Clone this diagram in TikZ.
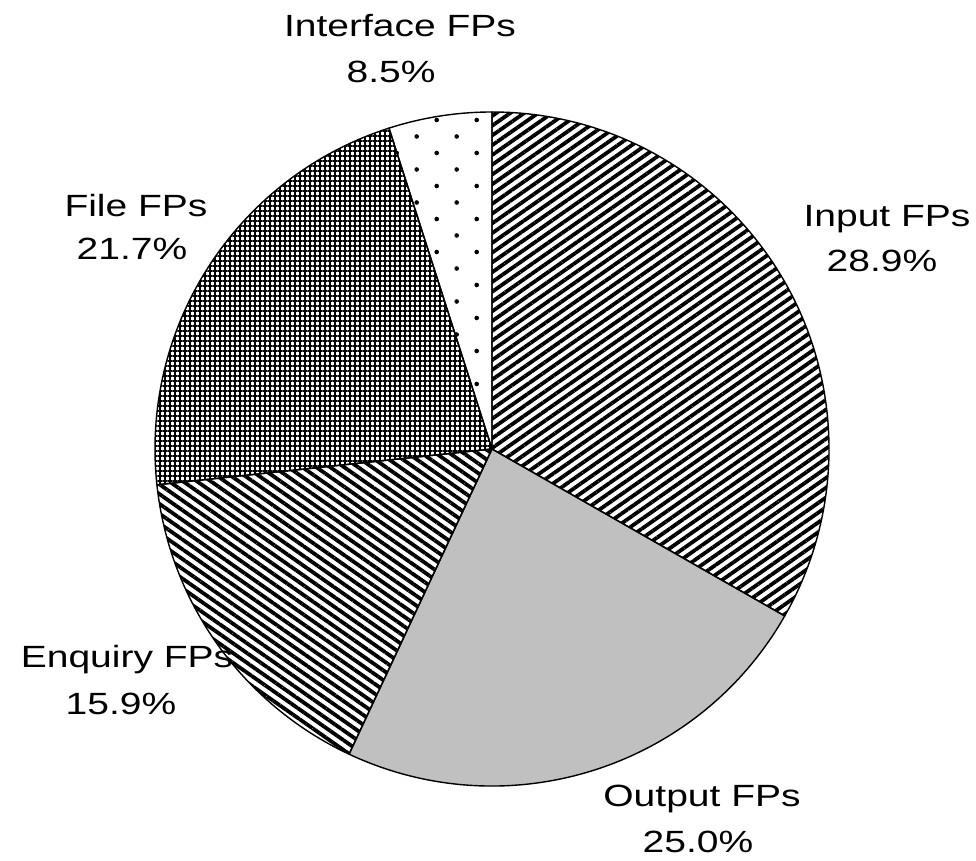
\documentclass[tikz,border=0pt]{standalone}
\usepackage{fontspec}
\setmainfont{Liberation Sans}
\usetikzlibrary{patterns.meta}
\definecolor{outgray}{RGB}{192,192,192}
\begin{document}
\begin{tikzpicture}[x=1pt,y=1pt,
  edge/.style={draw=black,line width=1.4pt,line join=round},
  stripesA/.style={pattern={Lines[angle=35,distance=8pt,line width=3.8pt]}},
  stripesB/.style={pattern={Lines[angle=-35,distance=8pt,line width=3.8pt]}},
  checker/.style={pattern={Hatch[angle=0,distance=5pt,line width=1.6pt]}},
  dotmark/.style={fill=black},
  lbl/.style={font=\fontsize{30.7}{46}\selectfont, xscale=1.27, anchor=base, inner sep=0pt}]
\useasboundingbox (0,0) rectangle (976,861);
\coordinate (c) at (492,412);
\def\R{337}
% Input slice
\fill[white] (c) -- ++(90:\R) arc[start angle=90,end angle=-29.7,radius=\R] -- cycle;
\path[stripesA] (c) -- ++(90:\R) arc[start angle=90,end angle=-29.7,radius=\R] -- cycle;
% Output slice
\fill[outgray] (c) -- ++(-29.7:\R) arc[start angle=-29.7,end angle=-115.1,radius=\R] -- cycle;
% Enquiry slice
\fill[white] (c) -- ++(-115.1:\R) arc[start angle=-115.1,end angle=-173.9,radius=\R] -- cycle;
\path[stripesB] (c) -- ++(-115.1:\R) arc[start angle=-115.1,end angle=-173.9,radius=\R] -- cycle;
% File slice
\fill[white] (c) -- ++(-173.9:\R) arc[start angle=-173.9,end angle=-252.2,radius=\R] -- cycle;
\path[checker] (c) -- ++(-173.9:\R) arc[start angle=-173.9,end angle=-252.2,radius=\R] -- cycle;
% Interface slice
\fill[white] (c) -- ++(107.8:\R) arc[start angle=107.8,end angle=90,radius=\R] -- cycle;
\begin{scope}
  \clip (c) -- ++(107.8:\R) arc[start angle=107.8,end angle=90,radius=\R] -- cycle;
  \foreach \m in {-4,...,0} {
    \foreach \n in {0,...,20} {
      \fill[dotmark] (476.7+40*\m, 741-33*\n) circle[radius=2.3];
      \fill[dotmark] (456.7+40*\m, 724.5-33*\n) circle[radius=2.3];
    }
  }
\end{scope}
% outlines
\draw[edge] (c) -- ++(90:\R) arc[start angle=90,end angle=-29.7,radius=\R] -- cycle;
\draw[edge] (c) -- ++(-29.7:\R) arc[start angle=-29.7,end angle=-115.1,radius=\R] -- cycle;
\draw[edge] (c) -- ++(-115.1:\R) arc[start angle=-115.1,end angle=-173.9,radius=\R] -- cycle;
\draw[edge] (c) -- ++(-173.9:\R) arc[start angle=-173.9,end angle=-252.2,radius=\R] -- cycle;
\draw[edge] (c) -- ++(107.8:\R) arc[start angle=107.8,end angle=90,radius=\R] -- cycle;
% labels
\node[lbl] (ifL) at (400,824) {Interface FPs};
\node[lbl] (ifP) at (391,778) {8.5\%};
\node[lbl] (flL) at (136,644) {File FPs};
\node[lbl] (flP) at (132,601) {21.7\%};
\node[lbl] (enL) at (127,193) {Enquiry FPs};
\node[lbl] (enP) at (121,146) {15.9\%};
\node[lbl] (otL) at (702,54) {Output FPs};
\node[lbl] (otP) at (698,9) {25.0\%};
\node[lbl] (inL) at (887,634) {Input FPs};
\node[lbl] (inP) at (882,589) {28.9\%};
\end{tikzpicture}
\end{document}
